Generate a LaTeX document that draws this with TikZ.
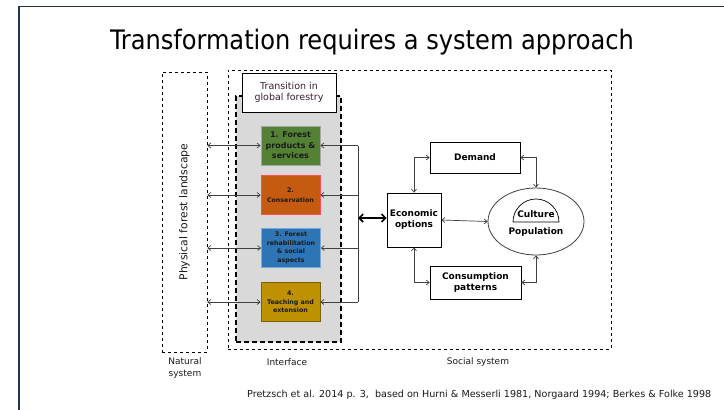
\documentclass[tikz,border=0pt]{standalone}
\usepackage{fontspec}
\setmainfont{DejaVu Sans}
\newfontfamily\titlefont{DejaVu Sans Condensed}
\usetikzlibrary{arrows.meta,shapes.geometric}
\definecolor{frame}{HTML}{1F3552}
\definecolor{ifgray}{HTML}{D9D9D9}
\definecolor{cgreen}{HTML}{548235}
\definecolor{corange}{HTML}{C55A11}
\definecolor{cblue}{HTML}{2E75B6}
\definecolor{cgold}{HTML}{BF9000}
\definecolor{lgray}{HTML}{404040}
\definecolor{txt}{HTML}{1A1A1A}
\tikzset{
  tip/.style={-{Straight Barb[length=3pt,width=5pt]}},
  dtip/.style={{Straight Barb[length=3pt,width=5pt]}-{Straight Barb[length=3pt,width=5pt]}},
  conn/.style={draw=lgray, line width=0.7pt},
  topic/.style={draw, line width=0.8pt, minimum width=59pt, minimum height=39pt, inner sep=0pt, align=center, text=txt, font=\fontsize{6.3}{8.5}\selectfont\bfseries},
  sbox/.style={draw=black, line width=0.7pt, fill=white, align=center, inner sep=0pt, font=\fontsize{9}{11}\selectfont\bfseries},
  lbl/.style={font=\fontsize{9}{12}\selectfont, align=center, text=txt},
}
\begin{document}
\begin{tikzpicture}[x=1pt,y=-1pt]
\useasboundingbox (0,0) rectangle (724,410);
\fill[white] (0,0) rectangle (724,410);
% slide frame
\draw[frame, line width=1.4pt] (19,410) -- (19,6.5) -- (724,6.5);
% title
\node[font=\titlefont\fontsize{26.8}{30}\selectfont] (title) at (372,42) {Transformation requires a system approach};
% outer boxes
\node[draw, dashed, line width=0.6pt, minimum width=45pt, minimum height=280pt, inner sep=0pt] (phys) at (184.5,212) {};
\node[rotate=90, font=\fontsize{10.8}{12}\selectfont, text=txt] (physt) at (184.5,212) {Physical forest landscape};
\node[draw, dashed, line width=0.6pt, minimum width=383pt, minimum height=279pt, inner sep=0pt] (social) at (419.5,209.5) {};
\node[draw, fill=ifgray, dashed, dash pattern=on 5pt off 3pt, line width=1.6pt, minimum width=105pt, minimum height=246pt, inner sep=0pt] (iface) at (288.5,219) {};
\node[draw, fill=white, line width=0.8pt, minimum width=94pt, minimum height=39pt, inner sep=0pt, align=center, font=\fontsize{9.5}{11}\selectfont, text={rgb,255:red,60;green,30;blue,50}] (trans) at (289,92.5) {Transition in\\global forestry};
% topic boxes
\node[topic, fill=cgreen, draw=gray!70, font=\fontsize{8}{10.5}\selectfont\bfseries] (f1) at (290.5,145.5) {1. Forest\\products \&\\services};
\node[topic, fill=corange, draw={rgb,255:red,255;green,80;blue,80}, font=\fontsize{6.3}{10}\selectfont\bfseries] (f2) at (290.5,195) {2.\\Conservation};
\node[topic, fill=cblue, draw={rgb,255:red,120;green,170;blue,220}] (f3) at (291,248) {3. Forest\\rehabilitation\\\& social\\aspects};
\node[topic, fill=cgold, draw={rgb,255:red,127;green,96;blue,0}] (f4) at (290.5,302) {4.\\Teaching and\\extension};
% arrows from natural system
\foreach \n in {f1,f2,f3,f4}{
  \draw[conn, dtip] (phys.east |- \n.west) -- (\n.west);
}
% bracket
\coordinate (br) at (358,218);
\draw[conn] (br |- f1.east) -- (br |- f4.east);
\foreach \n in {f1,f2,f3,f4}{
  \draw[conn, tip] (br |- \n.east) -- (\n.east);
}
% social system boxes
\node[sbox, minimum width=54pt, minimum height=54pt] (eco) at (414,220) {Economic\\options};
\node[sbox, minimum width=90pt, minimum height=31pt] (dem) at (475,157.5) {Demand};
\node[sbox, minimum width=91pt, minimum height=33pt] (cons) at (475.5,282.5) {Consumption\\patterns};
\node[draw=lgray, line width=0.8pt, ellipse, minimum width=96pt, minimum height=67pt, inner sep=0pt] (pop) at (536,221.5) {};
\draw[line width=0.7pt] (513,222) arc[start angle=180, end angle=360, radius=23] -- cycle;
\node[font=\fontsize{9}{11}\selectfont\bfseries, inner sep=0pt] (cult) at (536,214.5) {Culture};
\node[font=\fontsize{9}{11}\selectfont\bfseries, inner sep=0pt] (popt) at (536,232.5) {Population};
% thick arrow
\draw[line width=1.6pt, {Straight Barb[length=4pt,width=8pt]}-{Straight Barb[length=4pt,width=8pt]}] (br) -- (eco.west |- br);
% connectors
\draw[conn, dtip] (eco.north) |- (dem.west);
\draw[conn, dtip] (dem.east) -| (pop.north);
\draw[conn, dtip] (eco.east) -- (pop.west);
\draw[conn, dtip] (eco.south) |- (cons.west);
\draw[conn, dtip] (cons.east) -| (pop.south);
% labels
\node[lbl] (nat) at (185,368) {Natural\\system};
\node[lbl] (ifl) at (287,362) {Interface};
\node[lbl] (socl) at (478,362) {Social system};
\node[font=\fontsize{9.6}{11}\selectfont, text=txt, anchor=west, inner sep=0pt] (cite) at (247,395) {Pretzsch et al. 2014 p. 3, \ based on Hurni \& Messerli 1981, Norgaard 1994; Berkes \& Folke 1998};
\end{tikzpicture}
\end{document}
